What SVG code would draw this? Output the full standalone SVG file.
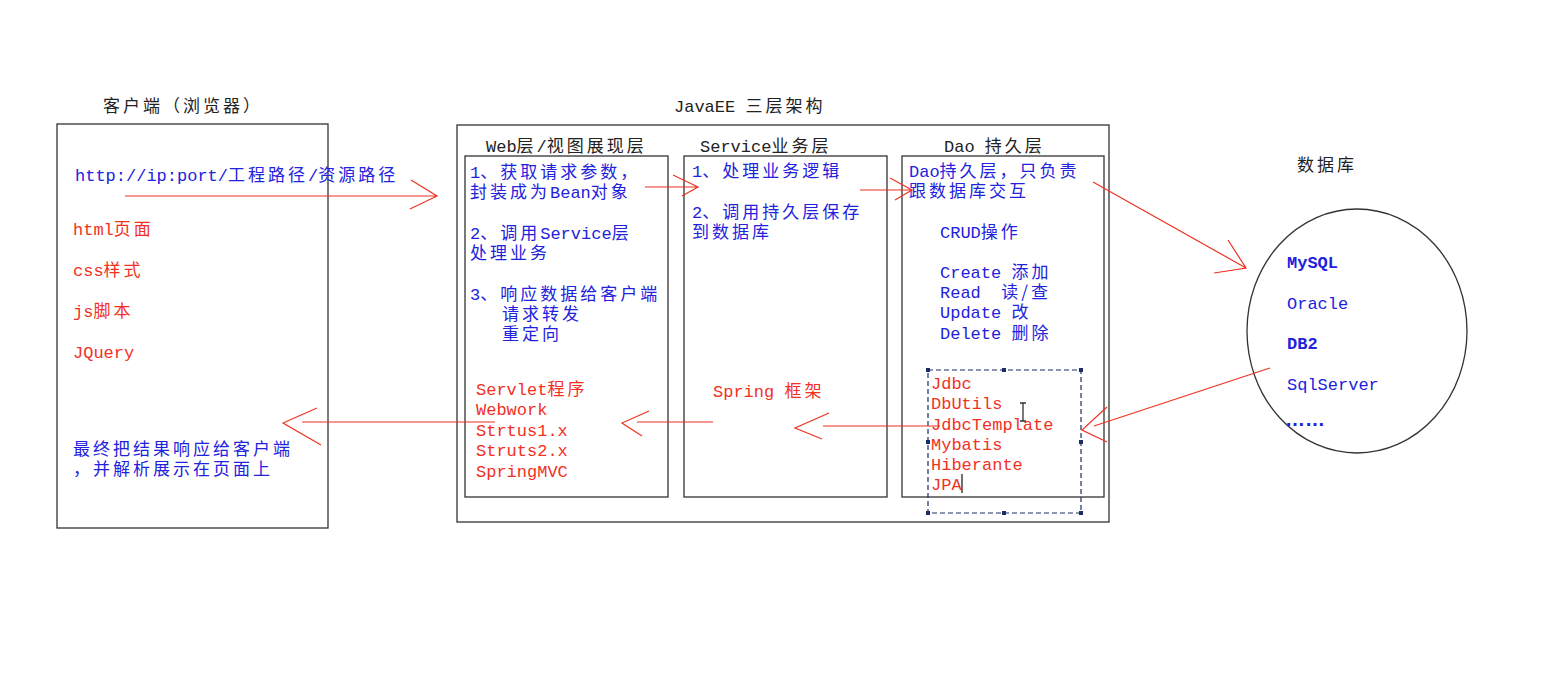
<svg xmlns="http://www.w3.org/2000/svg" width="1557" height="680" viewBox="0 0 1557 680">
<style>
text{font-family:"Liberation Mono","Noto Sans CJK SC",monospace;font-size:17px}
.z{font-family:"Noto Sans CJK SC",sans-serif;font-size:17px;letter-spacing:3px}
.h{fill:#222}
.b{fill:#2222dd}
.r{fill:#f2311f}
.box{fill:none;stroke:#333;stroke-width:1.3}
.ar{fill:none;stroke:#ee3322;stroke-width:1.2}
.sel{fill:none;stroke:#1c2d66;stroke-width:1.2;stroke-dasharray:5 3}
.hd{fill:#1c2d66}
</style>
<rect width="1557" height="680" fill="#fff"/>

<g id="client">
<text class="h" x="103" y="112"><tspan class="z">客户端（浏览器）</tspan></text>
<rect class="box" x="57" y="124" width="271" height="404"/>
<text class="b" x="75" y="181">http://ip:port/<tspan class="z">工程路径</tspan>/<tspan class="z">资源路径</tspan></text>
<text class="r" x="73" y="235">html<tspan class="z">页面</tspan></text>
<text class="r" x="73" y="276">css<tspan class="z">样式</tspan></text>
<text class="r" x="73" y="317">js<tspan class="z">脚本</tspan></text>
<text class="r" x="73" y="358">JQuery</text>
<text class="b" x="73" y="455"><tspan class="z">最终把结果响应给客户端</tspan></text>
<text class="b" x="73" y="475"><tspan class="z">，并解析展示在页面上</tspan></text>
</g>

<g id="javaee">
<text class="h" x="674" y="112">JavaEE <tspan class="z">三层架构</tspan></text>
<rect class="box" x="457" y="125" width="652" height="397"/>
</g>

<g id="web">
<text class="h" x="486" y="152">Web<tspan class="z">层</tspan>/<tspan class="z">视图展现层</tspan></text>
<rect class="box" x="465" y="156" width="203" height="341"/>
<text class="b" x="470" y="178">1<tspan class="z">、获取请求参数，</tspan></text>
<text class="b" x="470" y="198"><tspan class="z">封装成为</tspan>Bean<tspan class="z">对象</tspan></text>
<text class="b" x="470" y="239">2<tspan class="z">、调用</tspan>Service<tspan class="z">层</tspan></text>
<text class="b" x="470" y="259"><tspan class="z">处理业务</tspan></text>
<text class="b" x="470" y="300">3<tspan class="z">、响应数据给客户端</tspan></text>
<text class="b" x="502" y="320"><tspan class="z">请求转发</tspan></text>
<text class="b" x="502" y="340"><tspan class="z">重定向</tspan></text>
<text class="r" x="476" y="395">Servlet<tspan class="z">程序</tspan></text>
<text class="r" x="476" y="415">Webwork</text>
<text class="r" x="476" y="436">Strtus1.x</text>
<text class="r" x="476" y="456">Struts2.x</text>
<text class="r" x="476" y="477">SpringMVC</text>
</g>

<g id="service">
<text class="h" x="700" y="152">Service<tspan class="z">业务层</tspan></text>
<rect class="box" x="684" y="156" width="203" height="341"/>
<text class="b" x="692" y="177">1<tspan class="z">、处理业务逻辑</tspan></text>
<text class="b" x="692" y="218">2<tspan class="z">、调用持久层保存</tspan></text>
<text class="b" x="692" y="238"><tspan class="z">到数据库</tspan></text>
<text class="r" x="713" y="397">Spring <tspan class="z">框架</tspan></text>
</g>

<g id="dao">
<text class="h" x="944" y="152">Dao <tspan class="z">持久层</tspan></text>
<rect class="box" x="902" y="156" width="202" height="341"/>
<text class="b" x="909" y="177">Dao<tspan class="z">持久层，只负责</tspan></text>
<text class="b" x="909" y="197"><tspan class="z">跟数据库交互</tspan></text>
<text class="b" x="940" y="238">CRUD<tspan class="z">操作</tspan></text>
<text class="b" x="940" y="278">Create <tspan class="z">添加</tspan></text>
<text class="b" x="940" y="298" style="white-space:pre">Read  <tspan class="z">读/查</tspan></text>
<text class="b" x="940" y="318">Update <tspan class="z">改</tspan></text>
<text class="b" x="940" y="339">Delete <tspan class="z">删除</tspan></text>
<rect class="sel" x="928" y="370" width="153" height="143"/>
<g class="hd">
<rect x="926" y="368" width="4" height="4"/><rect x="1002" y="368" width="4" height="4"/><rect x="1079" y="368" width="4" height="4"/>
<rect x="926" y="440" width="4" height="4"/><rect x="1079" y="440" width="4" height="4"/>
<rect x="926" y="511" width="4" height="4"/><rect x="1002" y="511" width="4" height="4"/><rect x="1079" y="511" width="4" height="4"/>
</g>
<text class="r" x="931" y="389">Jdbc</text>
<text class="r" x="931" y="409">DbUtils</text>
<text class="r" x="931" y="430">JdbcTemplate</text>
<text class="r" x="931" y="450">Mybatis</text>
<text class="r" x="931" y="470">Hiberante</text>
<text class="r" x="931" y="490">JPA</text>
<path d="M962 474V493" stroke="#222" stroke-width="1.3"/>
<path d="M1020 403H1026M1023 403V421M1020 421H1026" stroke="#333" stroke-width="1.3" fill="none"/>
</g>

<g id="database">
<text class="h" x="1297" y="171"><tspan class="z">数据库</tspan></text>
<ellipse cx="1357" cy="331" rx="110" ry="122" fill="none" stroke="#333" stroke-width="1.3"/>
<text class="b" x="1287" y="268" font-weight="bold">MySQL</text>
<text class="b" x="1287" y="309">Oracle</text>
<text class="b" x="1287" y="349" font-weight="bold">DB2</text>
<text class="b" x="1287" y="390">SqlServer</text>
<text class="b" x="1285" y="426" style="font-family:'Liberation Sans',sans-serif;font-size:20px;font-weight:bold">……</text>
</g>

<g id="connectors">
<path class="ar" d="M125 196H437M411 180L437 196L410 209"/>
<path class="ar" d="M645 187H698M673 175L698 187L682 196"/>
<path class="ar" d="M860 190H912M890 178L912 190L895 200"/>
<path class="ar" d="M1093 182L1246 268M1228 240L1246 268L1214 273"/>
<path class="ar" d="M1270 368L1094 426M1107 407L1082 430L1107 442"/>
<path class="ar" d="M940 426H823M829 413L795 428L822 439"/>
<path class="ar" d="M713 422H637M649 411L622 423L642 436"/>
<path class="ar" d="M495 422H302M317 408L283 423L321 445"/>
</g>
</svg>
